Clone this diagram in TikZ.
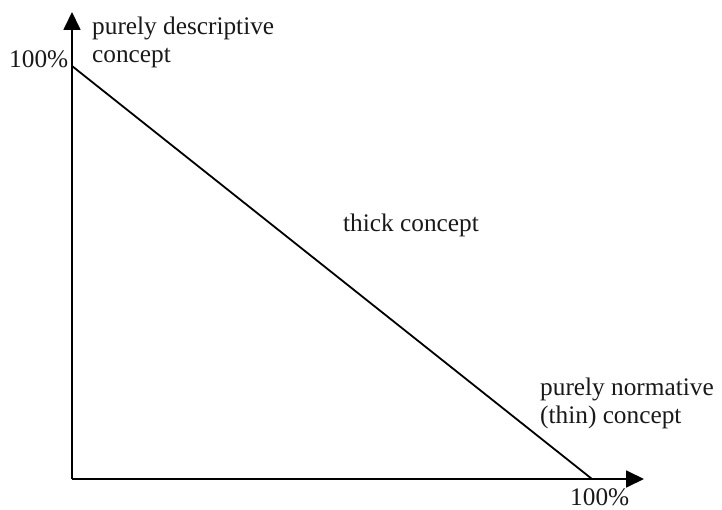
\documentclass[tikz,border=0pt]{standalone}
\usepackage{fontspec}
\setmainfont{Liberation Serif}
\usetikzlibrary{arrows.meta}
\begin{document}
\begin{tikzpicture}[x=1pt,y=-1pt,
  axis/.style={line width=1.8pt, -{Triangle[length=18pt,width=17pt]}},
  diag/.style={line width=1.8pt},
  lbl/.style={inner sep=0pt, anchor=base west, align=left, font=\fontsize{25.3}{28}\selectfont, text=black!90}]
\useasboundingbox (0,0) rectangle (722,510);
\coordinate (o) at (72,479);
\coordinate (ytip) at (72,12);
\coordinate (xtip) at (644,479);
\coordinate (top) at (72,66);
\coordinate (bot) at (592,479);
\draw[axis] (o) -- (ytip);
\draw[axis] (o) -- (xtip);
\draw[diag] (top) -- (bot);
\node[lbl] (desc) at (92,63) {purely descriptive\\concept};
\node[lbl] (ylab) at (9,68) {100\%};
\node[lbl] (thick) at (343,232) {thick concept};
\node[lbl] (norm) at (540,423) {purely normative\\(thin) concept};
\node[lbl] (xlab) at (570,505) {100\%};
\end{tikzpicture}
\end{document}
